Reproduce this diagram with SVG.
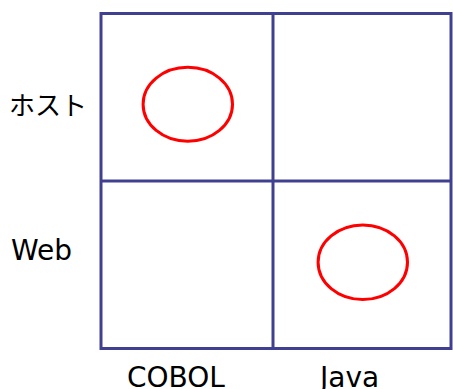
<svg xmlns="http://www.w3.org/2000/svg" width="453" height="389" viewBox="0 0 453 389">
  <style>
    .grid { fill: none; stroke: #404090; stroke-width: 3; }
    .mark { fill: none; stroke: #ff0000; stroke-width: 3; }
    .label { font-family: "DejaVu Sans", "Noto Sans CJK JP", sans-serif; font-size: 28px; fill: #000000; }
    .jp { font-family: "Noto Sans CJK JP", "DejaVu Sans", sans-serif; font-size: 26px; }
  </style>
  <rect width="453" height="389" fill="#ffffff"/>

  <!-- 2x2 matrix grid -->
  <g id="matrix">
    <rect class="grid" x="101" y="13.5" width="350" height="335"/>
    <line class="grid" x1="273" y1="13.5" x2="273" y2="348.5"/>
    <line class="grid" x1="101" y1="181" x2="451" y2="181"/>
  </g>

  <!-- row labels -->
  <g id="row-host">
    <text class="label jp" x="9" y="115">ホスト</text>
  </g>
  <g id="row-web">
    <text class="label" x="11" y="260">Web</text>
  </g>

  <!-- column labels -->
  <g id="col-cobol">
    <text class="label" x="127" y="387">COBOL</text>
  </g>
  <g id="col-java">
    <text class="label" x="320" y="387">Java</text>
  </g>

  <!-- marked cells -->
  <g id="mark-host-cobol">
    <ellipse class="mark" cx="187.8" cy="104.2" rx="44.7" ry="37"/>
  </g>
  <g id="mark-web-java">
    <ellipse class="mark" cx="362.8" cy="262.2" rx="44.7" ry="37.3"/>
  </g>
</svg>
